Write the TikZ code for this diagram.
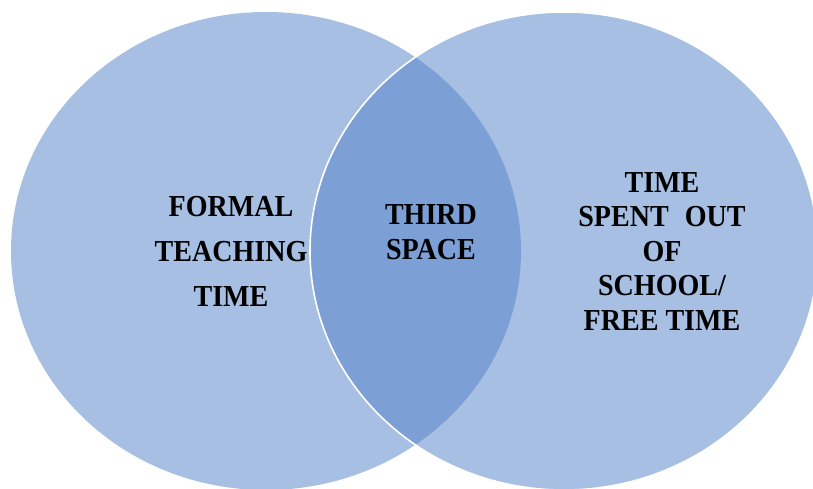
\documentclass[tikz,border=0pt]{standalone}
\usepackage{fontspec}
\setmainfont{Liberation Serif}
\newfontfamily\condserif[FakeStretch=0.92]{Liberation Serif}
\definecolor{lightset}{HTML}{A6BFE2}
\definecolor{darkset}{HTML}{7CA0D5}
\tikzset{
  setlabel/.style={align=center, inner sep=0pt, text=black,
    font=\condserif\bfseries\fontsize{30.5}{34.5}\selectfont},
  widelabel/.style={setlabel, font=\condserif\bfseries\fontsize{30.5}{45}\selectfont},
  midlabel/.style={setlabel, font=\condserif\bfseries\fontsize{30.5}{35}\selectfont}
}
\begin{document}
\begin{tikzpicture}[x=1pt,y=1pt]
\useasboundingbox (0,0) rectangle (813,488);
\fill[white] (0,0) rectangle (813,488);
\coordinate (lc) at (266,237);
\coordinate (rc) at (564,237);
\fill[lightset] (lc) ellipse [x radius=255, y radius=239];
\fill[lightset] (rc) ellipse [x radius=254, y radius=239];
\begin{scope}
  \clip (lc) ellipse [x radius=255, y radius=239];
  \fill[darkset] (rc) ellipse [x radius=254, y radius=239];
\end{scope}
\draw[white, line width=1.6pt] (rc) ellipse [x radius=254, y radius=239];
\node[widelabel] (formal) at (231,236.5) {FORMAL\\TEACHING\\TIME};
\node[midlabel] (third) at (431,255.5) {THIRD\\SPACE};
\node[setlabel] (free) at (662,236.5) {TIME\\SPENT\hspace{0.3em} OUT\\OF\\SCHOOL/\\FREE TIME};
\end{tikzpicture}
\end{document}
